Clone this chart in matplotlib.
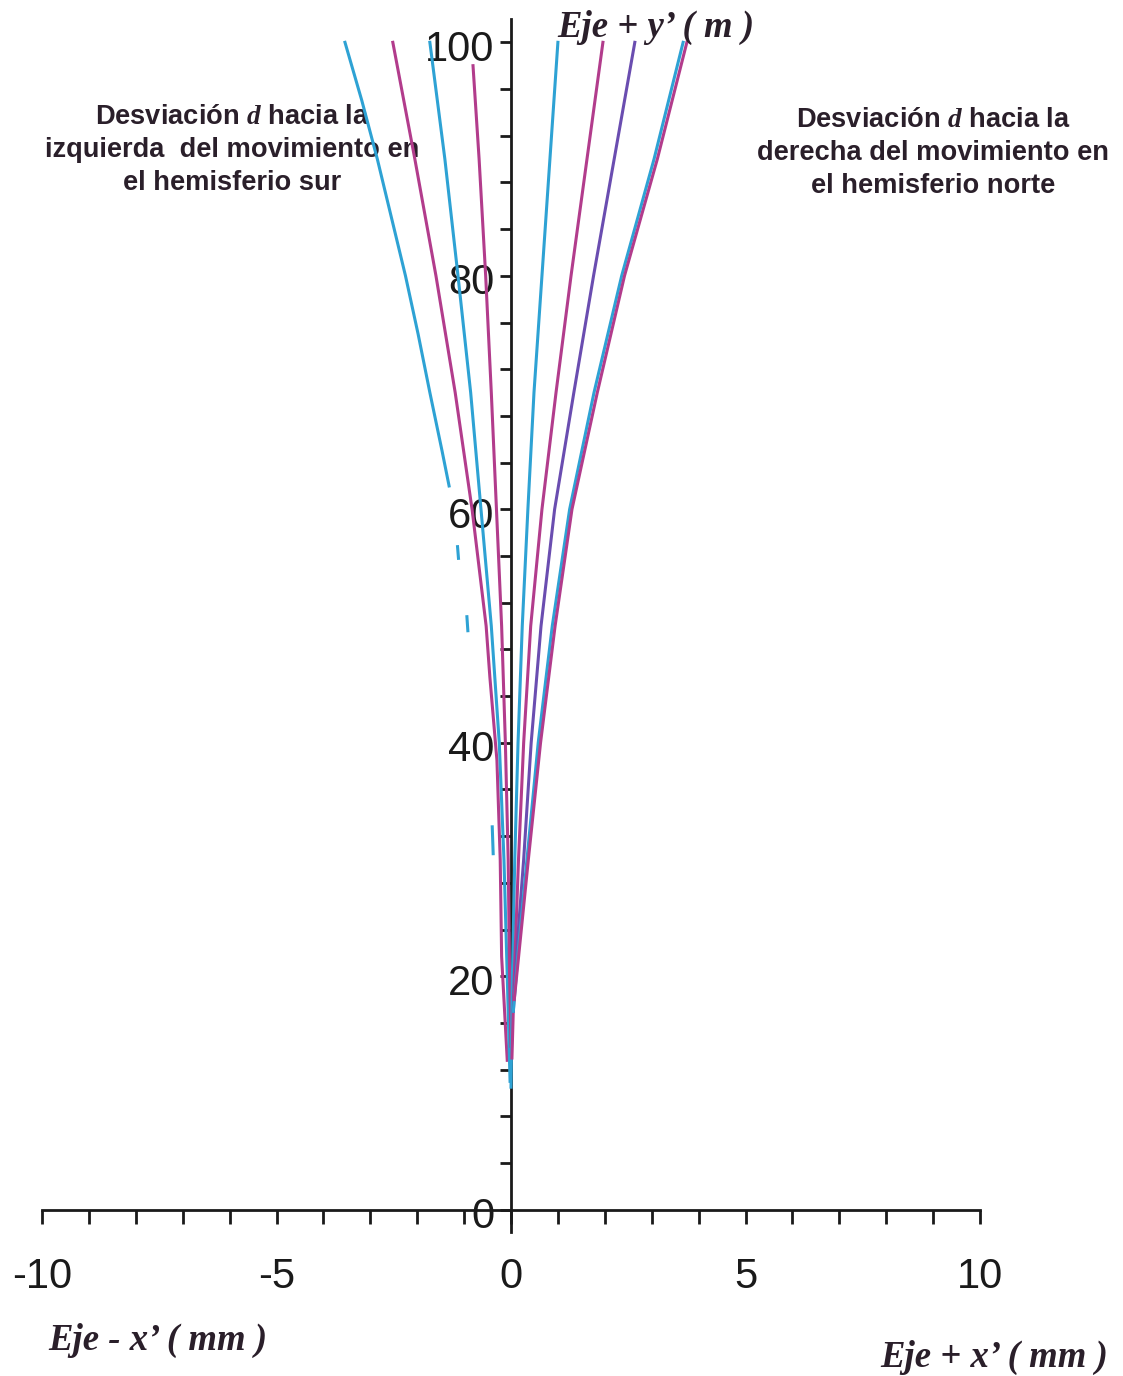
import numpy as np
import matplotlib
matplotlib.use("Agg")
import matplotlib.pyplot as plt
import matplotlib.transforms as mtransforms
from matplotlib.ticker import MultipleLocator, FuncFormatter

plt.rcParams['font.family'] = ['Liberation Sans', 'DejaVu Sans']
plt.rcParams['mathtext.fontset'] = 'custom'
plt.rcParams['mathtext.it'] = 'Liberation Serif:style=italic:weight=bold'

nan = np.nan

# curves: x' deviation (mm) against height y' (m)
# southern hemisphere (deviation to the left)
l1_y = [100, 95, 90, 85, 80, 75, 70, 65, 62, nan, 56.8, 55.8, nan, 50.8, 49.6, nan, 32.8, 30.5]
l1_x = [-3.54, -3.18, -2.85, -2.55, -2.25, -1.98, -1.73, -1.47, -1.32, nan, -1.14, -1.12, nan, -0.94, -0.92, nan, -0.40, -0.38]
l2_y = [100, 90, 80, 70, 60, 50, 45.6, 38.5, 30, 21.7, 12.8]
l2_x = [-2.52, -2.05, -1.60, -1.19, -0.83, -0.53, -0.45, -0.30, -0.23, -0.20, -0.08]
l3_y = [100, 90, 80, 70, 60, 50, 40, 30, 20, 11]
l3_x = [-1.73, -1.41, -1.13, -0.86, -0.64, -0.42, -0.25, -0.15, -0.08, -0.02]
l4_y = [98, 90, 80, 70, 60, 50, 40, 30, 20, 14]
l4_x = [-0.81, -0.68, -0.54, -0.42, -0.31, -0.20, -0.12, -0.06, -0.03, 0.0]

# northern hemisphere (deviation to the right)
r1_y = [100, 90, 80, 70, 60, 50, 40, 30, 20, 10.5]
r1_x = [1.00, 0.83, 0.66, 0.49, 0.36, 0.24, 0.15, 0.08, 0.03, 0.0]
r2_y = [100, 90, 80, 70, 60, 50, 40, 30, 20, 13]
r2_x = [1.96, 1.62, 1.28, 0.96, 0.66, 0.42, 0.27, 0.16, 0.07, 0.02]
r3_y = [100, 90, 80, 70, 60, 50, 40, 30, 22, 17]
r3_x = [2.64, 2.20, 1.76, 1.34, 0.93, 0.64, 0.43, 0.27, 0.12, 0.05]
r4_y = [100, 90, 80, 70, 60, 50, 40, 30, 22, 17]
r4_x = [3.67, 3.05, 2.36, 1.77, 1.25, 0.88, 0.58, 0.34, 0.15, 0.05]
r5_y = [100, 90, 80, 70, 60, 50, 40, 30, 22, 18]
r5_x = [3.75, 3.12, 2.42, 1.84, 1.30, 0.94, 0.63, 0.37, 0.17, 0.07]

cyan = "#2ea2d4"
magenta = "#b23c8c"
purple = "#6a4db0"

curves = [
    (l1_x, l1_y, cyan), (l2_x, l2_y, magenta), (l3_x, l3_y, cyan), (l4_x, l4_y, magenta),
    (r1_x, r1_y, cyan), (r2_x, r2_y, magenta), (r3_x, r3_y, purple),
    (r4_x, r4_y, cyan), (r5_x, r5_y, magenta),
]

fig = plt.figure(figsize=(11.23, 13.76), dpi=100)
ax = fig.add_axes([42 / 1123, 0.1047, (980 - 42) / 1123, 0.8815])
ax.patch.set_visible(False)  # so the curves can run over the notes

for xs, ys, c in curves:
    ax.plot(xs, ys, color=c, lw=2.2, zorder=3)

ax.set_xlim(-10, 10)
ax.set_ylim(-1.9, 102)

ax.spines['left'].set_position(('data', 0))
ax.spines['bottom'].set_position(('data', 0))
ax.spines['top'].set_visible(False)
ax.spines['right'].set_visible(False)
for s in ['left', 'bottom']:
    ax.spines[s].set_linewidth(2)
    ax.spines[s].set_color('#1a1a1a')

ax.xaxis.set_major_locator(MultipleLocator(1))
ax.yaxis.set_major_locator(MultipleLocator(4))
ax.xaxis.set_major_formatter(FuncFormatter(lambda v, p: f"{int(round(v))}" if round(v) % 5 == 0 else ""))
ax.yaxis.set_major_formatter(FuncFormatter(lambda v, p: f"{int(round(v))}" if round(v) % 20 == 0 else ""))
ax.tick_params(axis='x', direction='out', length=10, width=2, pad=24, labelsize=30, colors='#1a1a1a')
ax.tick_params(axis='y', direction='out', length=8, width=2, pad=4, labelsize=30, colors='#1a1a1a')

# y labels sit a little below their ticks in the reference
offset = mtransforms.ScaledTranslation(0, -0.03, fig.dpi_scale_trans)
for lab in ax.get_yticklabels():
    lab.set_transform(lab.get_transform() + offset)

lab_font = dict(family='Liberation Serif', style='italic', weight='bold', size=26.5, color='#2a1f2a')
fig.text(557 / 1123, 1 - 27 / 1376, "Eje + y’ ( m )", ha='left', va='center', **lab_font)
fig.text(48 / 1123, 1 - 1340 / 1376, "Eje - x’ ( mm )", ha='left', va='center', **lab_font)
fig.text(880 / 1123, 1 - 1357 / 1376, "Eje + x’ ( mm )", ha='left', va='center', **lab_font)

note_font = dict(weight='bold', size=19.6, color='#2a1f2a', ha='center', va='center', linespacing=1.33)
fig.text(232 / 1123, 1 - 150 / 1376,
         "Desviación $d$ hacia la\nizquierda  del movimiento en\nel hemisferio sur", zorder=-1, **note_font)
fig.text(933 / 1123, 1 - 153 / 1376,
         "Desviación $d$ hacia la\nderecha del movimiento en\nel hemisferio norte", zorder=-1, **note_font)

fig.savefig("out.png", dpi=100)
